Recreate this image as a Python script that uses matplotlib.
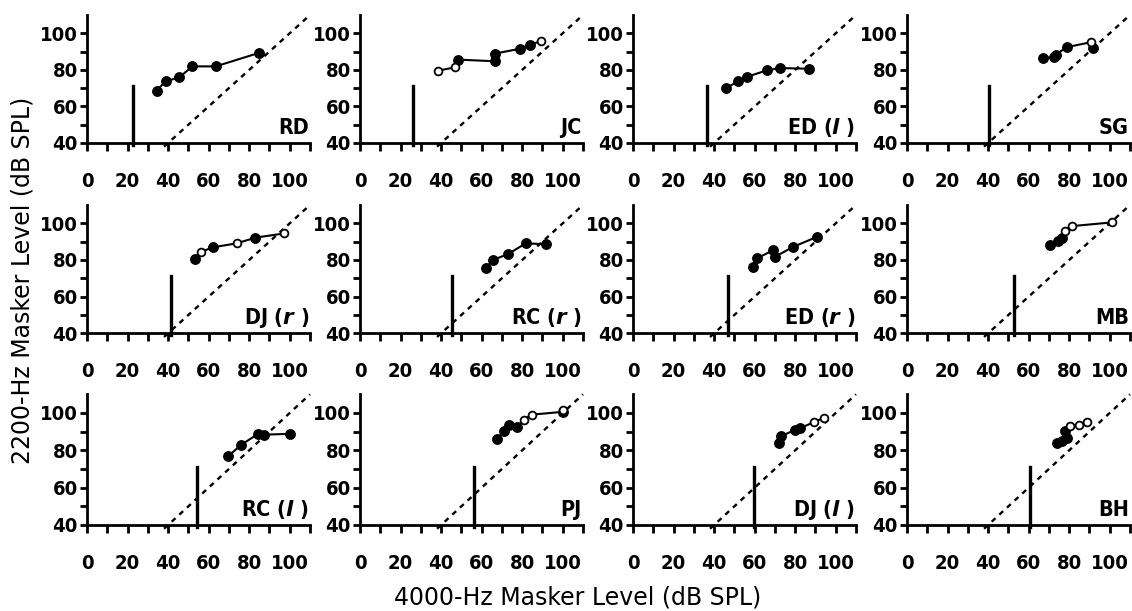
import matplotlib
matplotlib.use("Agg")
import matplotlib.pyplot as plt
import numpy as np

# ---------------- data ----------------
panel_names = ["RD", "JC", "ED_l", "SG", "DJ_r", "RC_r", "ED_r", "MB", "RC_l", "PJ", "DJ_l", "BH"]
panel_labels = ["RD", "JC", r"ED ($\mathit{l}$ )", "SG",
                r"DJ ($\mathit{r}$ )", r"RC ($\mathit{r}$ )", r"ED ($\mathit{r}$ )", "MB",
                r"RC ($\mathit{l}$ )", "PJ", r"DJ ($\mathit{l}$ )", "BH"]

# vertical line (threshold) positions on the 4000-Hz axis
vline_x = [22.8, 26.3, 36.3, 40.5, 41.6, 45.2, 47.1, 53.0, 54.4, 56.0, 59.6, 60.7]

RD_x = [34.3, 38.8, 45.5, 52.0, 63.5, 84.9]
RD_y = [68.7, 73.7, 75.9, 81.9, 81.9, 89.3]
RD_open = [0, 0, 0, 0, 0, 0]

JC_x = [38.6, 47.1, 48.4, 66.5, 66.5, 78.8, 83.7, 89.5]
JC_y = [79.6, 81.4, 85.6, 84.7, 88.9, 91.5, 93.8, 95.7]
JC_open = [1, 1, 0, 0, 0, 0, 0, 1]

ED_l_x = [45.8, 51.9, 56.0, 65.9, 72.4, 86.9]
ED_l_y = [70.0, 73.7, 76.1, 79.7, 81.0, 80.6]
ED_l_open = [0, 0, 0, 0, 0, 0]

SG_x = [67.3, 72.5, 73.4, 78.8, 90.6, 91.8]
SG_y = [86.5, 87.0, 88.3, 92.4, 95.1, 92.0]
SG_open = [0, 0, 0, 0, 1, 0]

DJ_r_x = [53.1, 56.3, 62.1, 73.9, 83.1, 97.4]
DJ_r_y = [80.4, 84.5, 86.9, 89.1, 92.2, 94.5]
DJ_r_open = [0, 1, 0, 1, 0, 1]

RC_r_x = [62.1, 65.7, 73.1, 81.8, 91.6]
RC_r_y = [75.8, 80.0, 83.3, 89.1, 88.6]
RC_r_open = [0, 0, 0, 0, 0]

ED_r_x = [59.1, 61.1, 69.3, 70.1, 79.1, 90.9]
ED_r_y = [76.3, 80.9, 85.4, 81.8, 87.2, 92.7]
ED_r_open = [0, 0, 0, 0, 0, 0]

MB_x = [70.6, 74.7, 76.4, 78.0, 81.6, 101.0]
MB_y = [88.2, 90.5, 91.8, 96.0, 98.5, 100.5]
MB_open = [0, 0, 0, 1, 1, 1]

RC_l_x = [69.5, 76.1, 84.4, 87.3, 100.1]
RC_l_y = [76.7, 83.0, 88.8, 88.4, 88.8]
RC_l_open = [0, 0, 0, 0, 0]

PJ_x = [67.5, 71.1, 73.7, 77.4, 80.7, 84.8, 100.0, 100.1]
PJ_y = [86.2, 90.2, 93.8, 92.3, 96.5, 99.1, 100.6, 101.8]
PJ_open = [0, 0, 0, 0, 1, 1, 0, 1]

DJ_l_x = [71.9, 73.1, 80.1, 82.6, 89.2, 94.1]
DJ_l_y = [83.9, 87.5, 91.1, 92.0, 95.0, 97.4]
DJ_l_open = [0, 0, 0, 0, 1, 1]

BH_x = [73.9, 76.4, 78.0, 78.9, 80.5, 84.6, 89.0]
BH_y = [83.9, 84.8, 90.2, 86.6, 92.9, 93.8, 95.2]
BH_open = [0, 0, 0, 0, 1, 1, 1]

series = [
    (RD_x, RD_y, RD_open), (JC_x, JC_y, JC_open), (ED_l_x, ED_l_y, ED_l_open), (SG_x, SG_y, SG_open),
    (DJ_r_x, DJ_r_y, DJ_r_open), (RC_r_x, RC_r_y, RC_r_open), (ED_r_x, ED_r_y, ED_r_open), (MB_x, MB_y, MB_open),
    (RC_l_x, RC_l_y, RC_l_open), (PJ_x, PJ_y, PJ_open), (DJ_l_x, DJ_l_y, DJ_l_open), (BH_x, BH_y, BH_open),
]

x_ticks = [0, 20, 40, 60, 80, 100]
y_ticks = [40, 60, 80, 100]

# ---------------- style ----------------
plt.rcParams['mathtext.fontset'] = 'custom'
plt.rcParams['mathtext.it'] = 'DejaVu Sans:italic:bold'
plt.rcParams['mathtext.rm'] = 'DejaVu Sans:bold'

W, H = 1132, 611
fig = plt.figure(figsize=(W / 100, H / 100), dpi=100)

col_left = [87, 360, 633, 907]
col_w = 223
rows = [(15, 143), (205, 333.3), (394.3, 525)]

tick_font = dict(family="DejaVu Sans", weight="bold", stretch="condensed", size=14.5)

for i in range(12):
    r, c = divmod(i, 4)
    top, bot = rows[r]
    ax = fig.add_axes([col_left[c] / W, 1 - bot / H, col_w / W, (bot - top) / H])
    ax.set_xlim(0, 110)
    ax.set_ylim(40, 110)
    for s in ("top", "right"):
        ax.spines[s].set_visible(False)
    for s in ("left", "bottom"):
        ax.spines[s].set_linewidth(2.0)
    ax.set_xticks(x_ticks)
    ax.set_xticks([10, 30, 50, 70, 90, 110], minor=True)
    ax.set_yticks(y_ticks)
    ax.set_yticks([50, 70, 90], minor=True)
    ax.tick_params(axis="x", which="both", direction="out", length=6, width=2.0, pad=15)
    ax.tick_params(axis="y", which="both", direction="out", length=5, width=2.0, pad=1.5)
    ax.set_xticklabels([str(t) for t in x_ticks], **tick_font)
    ax.set_yticklabels([str(t) for t in y_ticks], **tick_font)

    # identity (dashed) line
    ax.plot([38, 110], [38, 110], color="black", lw=1.7, ls=(0, (2.2, 2.2)), clip_on=False, zorder=2)
    # threshold vertical line
    ax.plot([vline_x[i], vline_x[i]], [39, 71], color="black", lw=2.4, clip_on=False, zorder=2)

    xs, ys, op = series[i]
    xs = np.asarray(xs); ys = np.asarray(ys); op = np.asarray(op, dtype=bool)
    ax.plot(xs, ys, color="black", lw=1.5, zorder=3)
    ax.plot(xs[~op], ys[~op], "o", color="black", ms=6.8, zorder=4, clip_on=False)
    ax.plot(xs[op], ys[op], "o", mfc="white", mec="black", ms=5.6, mew=1.3, zorder=5, clip_on=False)

    ax.text(109.5, 45.0, panel_labels[i], ha="right", va="baseline",
            family="DejaVu Sans", weight="bold", stretch="condensed", size=15.5)

fig.text(578 / W, 1 - 598 / H, "4000-Hz Masker Level (dB SPL)", ha="center", va="center",
         family="DejaVu Sans", size=17)
fig.text(23 / W, 1 - 280 / H, "2200-Hz Masker Level (dB SPL)", ha="center", va="center",
         rotation=90, family="DejaVu Sans", size=17)

fig.savefig("out.png", dpi=100)
